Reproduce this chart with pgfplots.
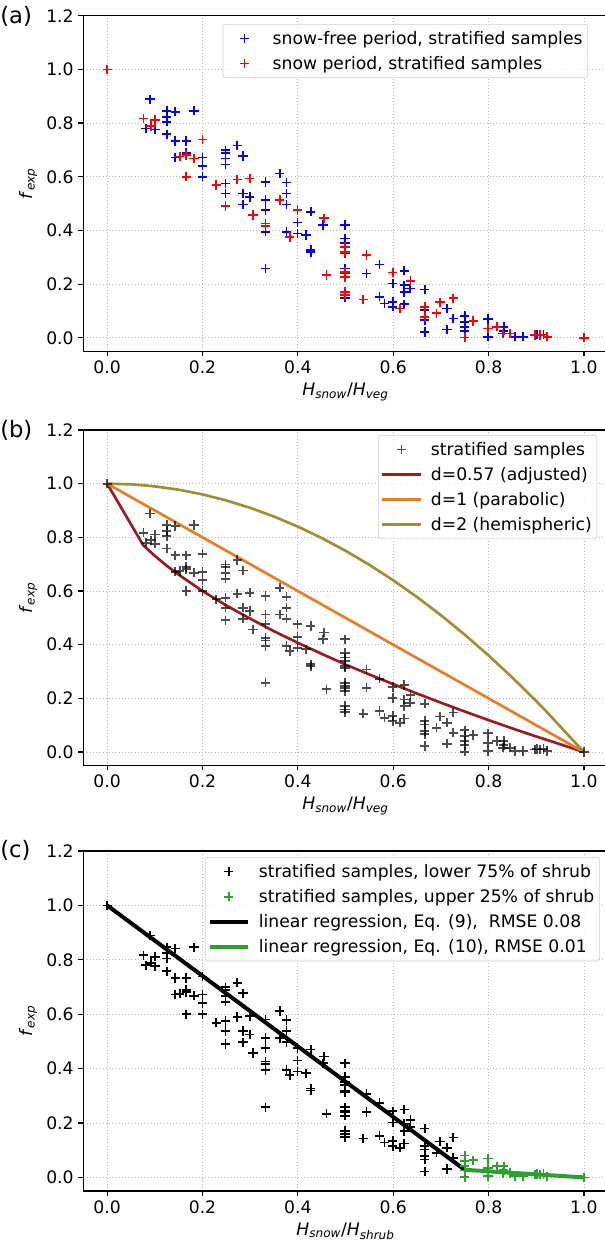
\documentclass[border=0pt]{standalone}
\usepackage{fontspec}
\setmainfont{DejaVu Sans}
\usepackage{pgfplots}
\usepackage{pgfplotstable}
\pgfplotsset{compat=1.18}
\newcommand\fs{\fontsize{12.9}{15.2}\selectfont}
\newcommand\lfs{\fontsize{12.9}{15.2}\selectfont}
\newcommand\rp{\hspace{2pt}}
\definecolor{dred}{RGB}{155,27,32}
\definecolor{morange}{RGB}{232,125,38}
\definecolor{molive}{RGB}{155,145,50}
\definecolor{mgreen}{RGB}{44,160,44}

\pgfplotstableread{
x y
0.090 0.889
0.081 0.780
0.100 0.776
0.125 0.846
0.143 0.842
0.125 0.824
0.125 0.805
0.182 0.846
0.125 0.758
0.143 0.733
0.166 0.733
0.143 0.672
0.166 0.689
0.200 0.672
0.200 0.641
0.200 0.600
0.248 0.699
0.248 0.689
0.248 0.668
0.248 0.646
0.273 0.716
0.285 0.677
0.248 0.575
0.248 0.538
0.285 0.538
0.299 0.525
0.285 0.497
0.332 0.581
0.332 0.513
0.332 0.476
0.332 0.395
0.332 0.258
0.362 0.612
0.376 0.579
0.376 0.538
0.376 0.497
0.376 0.395
0.399 0.430
0.399 0.389
0.417 0.383
0.427 0.470
0.427 0.327
0.427 0.320
0.453 0.420
0.499 0.420
0.499 0.370
0.499 0.352
0.499 0.314
0.499 0.258
0.499 0.240
0.499 0.149
0.544 0.240
0.571 0.273
0.571 0.153
0.582 0.128
0.599 0.202
0.599 0.134
0.599 0.116
0.623 0.250
0.623 0.196
0.623 0.171
0.623 0.125
0.635 0.184
0.666 0.180
0.666 0.103
0.666 0.066
0.666 0.022
0.713 0.109
0.713 0.031
0.726 0.072
0.750 0.081
0.750 0.060
0.750 0.041
0.750 0.025
0.799 0.070
0.799 0.004
0.832 0.041
0.832 0.026
0.855 0.004
0.873 0.004
0.901 0.012
0.915 0.012
}\snowfree

\pgfplotstableread{
x y
0.000 1.000
0.076 0.817
0.092 0.789
0.100 0.811
0.152 0.675
0.166 0.681
0.182 0.668
0.166 0.600
0.200 0.739
0.229 0.569
0.248 0.491
0.273 0.590
0.299 0.594
0.306 0.457
0.332 0.426
0.332 0.416
0.362 0.513
0.383 0.376
0.399 0.476
0.455 0.445
0.460 0.234
0.499 0.339
0.499 0.320
0.499 0.246
0.499 0.227
0.499 0.171
0.499 0.159
0.537 0.143
0.544 0.308
0.599 0.243
0.614 0.109
0.636 0.212
0.666 0.116
0.666 0.078
0.691 0.091
0.698 0.132
0.726 0.147
0.750 0.001
0.768 0.063
0.799 0.035
0.817 0.041
0.830 0.016
0.845 0.016
0.897 0.010
0.908 0.010
0.923 0.004
1.000 0.000
}\snowtab

\pgfplotsset{
  panel/.style={
    scale only axis, width=393.3pt, height=251.6pt,
    xmin=-0.05, xmax=1.05, ymin=-0.05, ymax=1.2,
    xtick={0,0.2,0.4,0.6,0.8,1.0},
    ytick={0,0.2,0.4,0.6,0.8,1.0,1.2},
    tick pos=left, tick align=outside, major tick length=3.75pt,
    grid=major, grid style={dotted, black!28, line width=0.6pt},
    axis line style={line width=0.9pt},
    every tick/.style={black, line width=0.9pt},
    tick label style={font=\fs},
    label style={font=\fs},
    /pgf/number format/fixed,
    /pgf/number format/fixed zerofill,
    /pgf/number format/precision=1,
    /pgf/number format/assume math mode=true,
    ylabel={\textit{f}\textsubscript{\textit{exp}}},
    legend cell align=left,
    legend style={font=\lfs, draw=black!20, rounded corners=2pt,
      fill=white, fill opacity=0.8, text opacity=1,
      anchor=north west,
      row sep=3.5pt, column sep=4.75pt, inner xsep=1.75pt, inner ysep=3pt,
      nodes={inner sep=2pt}},
  },
  pts/.style={only marks, mark=+, mark size=3.5pt, mark options={line width=1.3pt}},
  markleg/.style={legend image code/.code={%
     \draw[draw=none] (0pt,0pt) -- (28.75pt,0pt);%
     \draw[##1] plot coordinates {(14.4pt,0pt)};}},
  lineleg/.style={legend image code/.code={\draw[##1] (0pt,0pt) -- (28.75pt,0pt);}},
}

\begin{document}
\begin{tikzpicture}
\path[use as bounding box] (0,0) rectangle (453pt,-931.5pt);

% (a)
\begin{axis}[panel, at={(62.5pt,-11.8pt)}, anchor=north west,
  legend style={at={(0.2658,0.9753)}},
  xlabel={\textit{H}\textsubscript{\textit{snow}}/\textit{H}\textsubscript{\textit{veg}}}]
\addplot[pts, blue, markleg] table {\snowfree};
\addlegendentry{snow-free period, stratified samples\rp}
\addplot[pts, red, markleg] table {\snowtab};
\addlegendentry{snow period, stratified samples\rp}
\end{axis}
\node[anchor=west, font=\fontsize{17}{20}\selectfont, inner sep=0pt] at (0pt,-12.3pt) {(a)};

% (b)
\begin{axis}[panel, at={(62.5pt,-322.5pt)}, anchor=north west,
  legend style={at={(0.5626,0.985)}},
  xlabel={\textit{H}\textsubscript{\textit{snow}}/\textit{H}\textsubscript{\textit{veg}}}]
\addplot[pts, black, opacity=0.7, markleg] table {\snowfree};
\addlegendentry{stratified samples\rp}
\addplot[pts, black, opacity=0.7, forget plot] table {\snowtab};
\addplot[dred, line width=2pt, lineleg] coordinates {
(0,1) (0.0755,0.771) (0.1,0.731) (0.125,0.694) (0.15,0.661) (0.2,0.600)
(0.25,0.546) (0.3,0.497) (0.35,0.450) (0.4,0.407) (0.45,0.366) (0.5,0.326)
(0.55,0.289) (0.6,0.253) (0.65,0.218) (0.7,0.184) (0.75,0.151) (0.8,0.119)
(0.85,0.088) (0.9,0.058) (0.923,0.045) (1.0,0.0)};
\addlegendentry{d=0.57 (adjusted)\rp}
\addplot[morange, line width=2pt, lineleg] coordinates {
(0,1) (0.5,0.5) (1,0)};
\addlegendentry{d=1 (parabolic)\rp}
\addplot[molive, line width=2pt, lineleg] coordinates {
(0,1) (0.05,0.9975) (0.0755,0.994) (0.1,0.99) (0.15,0.9775) (0.2,0.96)
(0.25,0.9375) (0.3,0.91) (0.35,0.8775) (0.4,0.84) (0.45,0.7975) (0.5,0.75)
(0.55,0.6975) (0.6,0.64) (0.65,0.5775) (0.7,0.51) (0.75,0.4375) (0.8,0.36)
(0.85,0.2775) (0.9,0.19) (0.923,0.148) (1,0)};
\addlegendentry{d=2 (hemispheric)\rp}
\end{axis}
\node[anchor=west, font=\fontsize{17}{20}\selectfont, inner sep=0pt] at (0pt,-323pt) {(b)};

% (c)
\begin{axis}[panel, height=255pt, at={(62.5pt,-638.25pt)}, anchor=north west,
  legend style={at={(0.2320,0.982)}},
  xlabel={\textit{H}\textsubscript{\textit{snow}}/\textit{H}\textsubscript{\textit{shrub}}}]
\addplot[pts, black, markleg, restrict x to domain=-0.1:0.749] table {\snowfree};
\addlegendentry{stratified samples, lower 75\% of shrub\rp}
\addplot[pts, black, forget plot, restrict x to domain=-0.1:0.749] table {\snowtab};
\addplot[pts, mgreen, markleg, restrict x to domain=0.7495:1.1] table {\snowfree};
\addlegendentry{stratified samples, upper 25\% of shrub\rp}
\addplot[pts, mgreen, forget plot, restrict x to domain=0.7495:1.1] table {\snowtab};
\addplot[black, line width=3pt, lineleg] coordinates {(0,1) (0.75,0.028)};
\addlegendentry{linear regression, Eq. (9), \ RMSE 0.08\rp}
\addplot[mgreen, line width=3pt, lineleg] coordinates {(0.75,0.028) (1.0,0.0)};
\addlegendentry{linear regression, Eq. (10), RMSE 0.01\rp}
\end{axis}
\node[anchor=west, font=\fontsize{17}{20}\selectfont, inner sep=0pt] at (0pt,-637.5pt) {(c)};
\end{tikzpicture}
\end{document}
